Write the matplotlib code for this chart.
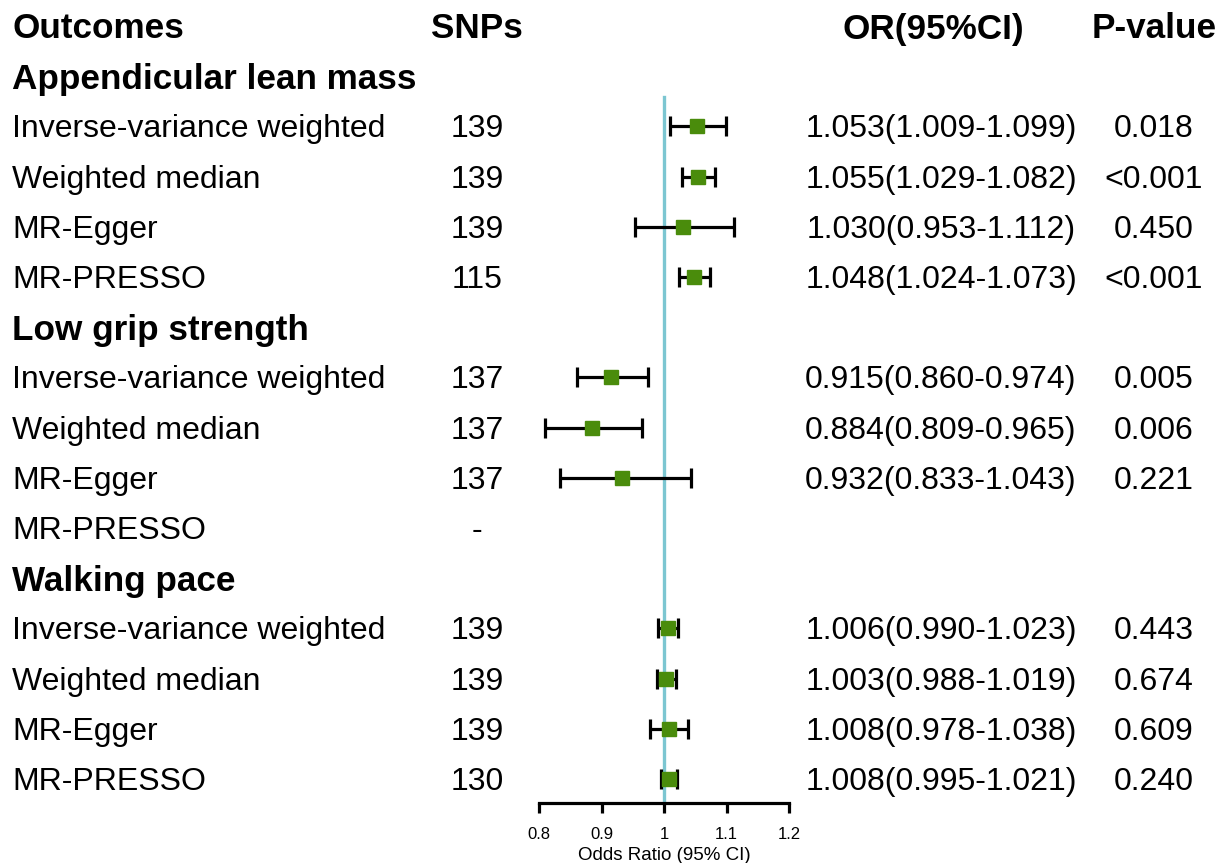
import numpy as np
import matplotlib.pyplot as plt
from matplotlib.transforms import blended_transform_factory, offset_copy

plt.rcParams['font.family'] = ['Liberation Sans', 'DejaVu Sans']

# Data
groups = ["Appendicular lean mass", "Low grip strength", "Walking pace"]
methods = ["Inverse-variance weighted", "Weighted median", "MR-Egger", "MR-PRESSO"]
snps = [["139", "139", "139", "115"],
        ["137", "137", "137", "-"],
        ["139", "139", "139", "130"]]
or_est = [[1.053, 1.055, 1.030, 1.048],
          [0.915, 0.884, 0.932, np.nan],
          [1.006, 1.003, 1.008, 1.008]]
ci_low = [[1.009, 1.029, 0.953, 1.024],
          [0.860, 0.809, 0.833, np.nan],
          [0.990, 0.988, 0.978, 0.995]]
ci_high = [[1.099, 1.082, 1.112, 1.073],
           [0.974, 0.965, 1.043, np.nan],
           [1.023, 1.019, 1.038, 1.021]]
pvals = [["0.018", "<0.001", "0.450", "<0.001"],
         ["0.005", "0.006", "0.221", ""],
         ["0.443", "0.674", "0.609", "0.240"]]

W, H = 1232, 863
fig = plt.figure(figsize=(W / 100, H / 100), dpi=100)

row_h = 50.2
top_px = 26
spine_px = 803
ymax = (spine_px - top_px) / row_h
ax = fig.add_axes([539 / W, 1 - spine_px / H, 250 / W, (spine_px - top_px) / H])
ax.set_xlim(0.8, 1.2)
ax.set_ylim(ymax, 0)
ax.patch.set_alpha(0)
for s in ["top", "right", "left"]:
    ax.spines[s].set_visible(False)
ax.spines["bottom"].set_linewidth(2.3)
ax.set_yticks([])
ax.set_xticks([0.8, 0.9, 1.0, 1.1, 1.2])
ax.set_xticklabels(["0.8", "0.9", "1", "1.1", "1.2"], fontsize=12)
ax.tick_params(axis="x", length=7, width=2.3, pad=10)
ax.set_xlabel("Odds Ratio (95% CI)", fontsize=13.5, labelpad=4)

# reference line
ax.plot([1, 1], [1.41, ymax], color="#7CC6D1", lw=2.4, zorder=1, clip_on=False)

# text: x in figure fraction, y in row units, nudged down a little
tr = offset_copy(blended_transform_factory(fig.transFigure, ax.transData),
                 fig=fig, y=-3, units="dots")
fs = 23
fsb = 25.3

def xf(px):
    return px / W

headers = [("Outcomes", 12, "left"), ("SNPs", 477, "center"),
           ("OR(95%CI)", 933, "center"), ("P-value", 1154, "center")]
for label, px, ha in headers:
    ax.text(xf(px), 0, label, transform=tr, fontsize=fsb, fontweight="bold", va="center", ha=ha)

row = 1
for g, gname in enumerate(groups):
    ax.text(xf(12), row, gname, transform=tr, fontsize=fsb, fontweight="bold", va="center", ha="left")
    row += 1
    for m, mname in enumerate(methods):
        ax.text(xf(12), row, mname, transform=tr, fontsize=fs, va="center", ha="left")
        ax.text(xf(477), row, snps[g][m], transform=tr, fontsize=fs, va="center", ha="center")
        est = or_est[g][m]
        if not np.isnan(est):
            lo, hi = ci_low[g][m], ci_high[g][m]
            ax.errorbar(est, row, xerr=[[est - lo], [hi - est]], fmt="none",
                        ecolor="black", elinewidth=2.3, capsize=7, capthick=2.3, zorder=2)
            ax.plot(est, row, "s", color="#4A8C0C", markersize=9.5, zorder=3)
            ax.text(xf(941), row, f"{est:.3f}({lo:.3f}-{hi:.3f})", transform=tr,
                    fontsize=fs, va="center", ha="center")
            ax.text(xf(1154), row, pvals[g][m], transform=tr, fontsize=fs, va="center", ha="center")
        row += 1

fig.savefig("out.png", dpi=100)
